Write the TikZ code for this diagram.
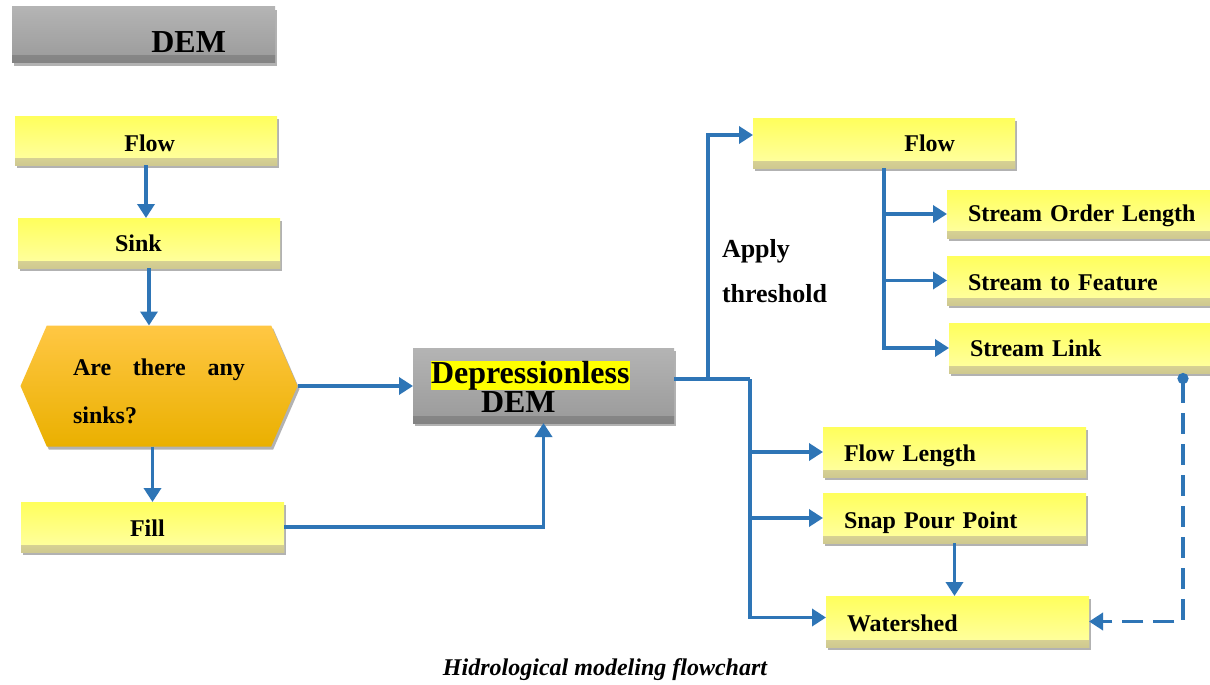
\documentclass[tikz,border=0pt]{standalone}
\usepackage{fontspec}
\setmainfont{Liberation Serif}
\usetikzlibrary{arrows.meta,shapes.symbols,shadows,calc}
\definecolor{lnblue}{HTML}{2E75B6}
\definecolor{ytop}{HTML}{FFFF5C}
\definecolor{ybot}{HTML}{FFFFA6}
\definecolor{yband}{HTML}{CFC990}
\definecolor{gtop}{HTML}{B4B4B4}
\definecolor{gbot}{HTML}{9A9A9A}
\definecolor{gband}{HTML}{838383}
\definecolor{htop}{HTML}{FFC744}
\definecolor{hbot}{HTML}{EAB000}
\definecolor{hl}{HTML}{FFFF00}
\setlength{\fboxsep}{0pt}
\newcommand{\up}[1]{\rule{0pt}{#1}}
\begin{document}
\begin{tikzpicture}[x=1pt,y=-1pt,
  every node/.style={font=\bfseries\fontsize{24}{28}\selectfont, inner sep=0pt, outer sep=0pt},
  basebox/.style={rectangle, anchor=north west,
    drop shadow={shadow xshift=2pt, shadow yshift=-3pt, opacity=0.3, fill=black}},
  ybox/.style={basebox, top color=ytop, bottom color=ybot,
    path picture={\shade[top color=ybot, bottom color=yband]
      ([yshift=7pt]path picture bounding box.south west) rectangle (path picture bounding box.south east);}},
  gbox/.style={basebox, top color=gtop, bottom color=gbot,
    path picture={\shade[top color=gbot, bottom color=gband]
      ([yshift=7pt]path picture bounding box.south west) rectangle (path picture bounding box.south east);}},
  hexbox/.style={shape=signal, signal to=west and east, signal pointer angle=133,
    top color=htop, bottom color=hbot,
    drop shadow={shadow xshift=2pt, shadow yshift=-3pt, opacity=0.3, fill=black}},
  line/.style={draw=lnblue, line width=3.5pt},
  conn/.style={line, -{Triangle[length=14pt,width=17pt]}},
  dconn/.style={line, dash pattern=on 21pt off 10pt, {Circle[length=11pt]}-{Triangle[length=14pt,width=17pt]}}
]
\fill[white] (0,0) rectangle (1210,685);
\useasboundingbox (0,0) rectangle (1210,685);

% left column
\node[gbox, minimum width=263pt, minimum height=56pt, text width=165pt, align=right,
      font=\bfseries\fontsize{32}{38}\selectfont] (dem) at (12,7) {\up{35pt}DEM};
\node[ybox, minimum width=262pt, minimum height=49pt, text width=58pt, align=right] (flowL) at (15,116) {\up{22pt}Flow};
\node[ybox, minimum width=262pt, minimum height=50pt, text width=68pt, align=left] (sink) at (18,218) {\up{18pt}Sink};
\node[hexbox, minimum width=277pt, minimum height=121pt, text width=172pt, align=left] (hex) at (159,386)
  {\makebox[172pt][l]{\up{28pt}Are\hfill there\hfill any}\\[20pt]sinks?};
\node[ybox, minimum width=263pt, minimum height=50pt, text width=45pt, align=left] (fill) at (21,502) {\up{18pt}Fill};

% middle
\node[gbox, minimum width=261pt, minimum height=75pt, text width=225pt, align=left,
      font=\bfseries\fontsize{32}{29}\selectfont] (dd) at (413,348)
  {\up{25pt}\colorbox{hl}{Depressionless}\\\hspace*{50pt}DEM};

% right upper
\node[ybox, minimum width=262pt, minimum height=50pt, text width=142pt, align=right] (flowR) at (753,118) {Flow};
\node[ybox, minimum width=282pt, minimum height=48pt, text width=240pt, align=left] (sol) at (947,190) {\up{20pt}Stream Order Length};
\node[ybox, minimum width=282pt, minimum height=49pt, text width=240pt, align=left] (stf) at (947,256) {\up{20pt}Stream to Feature};
\node[ybox, minimum width=280pt, minimum height=50pt, text width=238pt, align=left] (slink) at (949,323) {Stream Link};

% right lower
\node[ybox, minimum width=263pt, minimum height=50pt, text width=221pt, align=left] (flen) at (823,427) {\up{24pt}Flow Length};
\node[ybox, minimum width=263pt, minimum height=50pt, text width=221pt, align=left] (snap) at (823,493) {\up{26pt}Snap Pour Point};
\node[ybox, minimum width=263pt, minimum height=51pt, text width=221pt, align=left] (water) at (826,596) {\up{20pt}Watershed};

% labels
\node[font=\bfseries\fontsize{26}{45}\selectfont, align=left, anchor=west] (thr) at (722,271) {Apply\\threshold};
\node[font=\bfseries\itshape\fontsize{24}{28}\selectfont] (cap) at (605,670) {Hidrological modeling flowchart};

% junctions
\coordinate (j1) at (708,379);
\coordinate (j2) at (750,379);
\coordinate (d1) at (1183,0);

% connectors
\draw[conn] (flowL.south) -- (flowL.south |- sink.north);
\draw[conn] (sink.south) -- (sink.south |- hex.north);
\draw[conn] (fill.north |- hex.south) -- (fill.north);
\draw[conn] (hex.east) -- (hex.east -| dd.west);
\draw[conn] (fill.east) -| (dd.south);
\draw[line] (dd.east |- j1) -- (j2);
\draw[conn] (j1) |- ([yshift=8pt]flowR.west);
\draw[conn] (j2) |- (flen.west);
\draw[conn] (j2) |- (snap.west);
\draw[conn] (j2) |- ([yshift=4pt]water.west);
\draw[conn] (flowR.south) |- (sol.west);
\draw[conn] (flowR.south) |- (stf.west);
\draw[conn] (flowR.south) |- (slink.west);
\draw[conn] (snap.south) -- (snap.south |- water.north);
\draw[dconn] (slink.south -| d1) |- (water.east);
\end{tikzpicture}
\end{document}
